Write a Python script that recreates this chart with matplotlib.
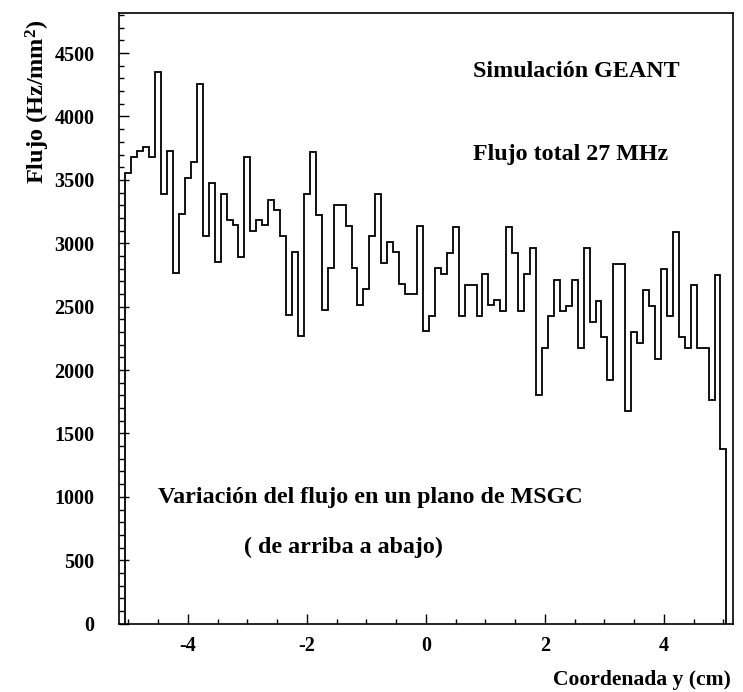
import numpy as np
import matplotlib
matplotlib.use("Agg")
import matplotlib.pyplot as plt
from matplotlib.ticker import MultipleLocator

plt.rcParams['font.family'] = ['Liberation Serif', 'DejaVu Serif']
plt.rcParams['font.weight'] = 'bold'
plt.rcParams['mathtext.default'] = 'regular'
plt.rcParams['axes.unicode_minus'] = False

# flux per 0.1 cm bin along y, from -5.05 to 5.05 cm (Hz/mm^2)
flujo = [3556, 3680, 3724, 3759, 3680, 4347, 3391, 3724, 2768, 3228,
         3514, 3638, 4260, 3057, 3475, 2850, 3388, 3181, 3141, 2892,
         3680, 3099, 3181, 3141, 3345, 3265, 3057, 2437, 2931, 2267,
         3388, 3719, 3223, 2474, 2808, 3302, 3302, 3136, 2808, 2516,
         2637, 3054, 3385, 2847, 3010, 2929, 2682, 2598, 2598, 3135,
         2306, 2429, 2803, 2755, 2926, 3128, 2429, 2674, 2674, 2429,
         2755, 2511, 2556, 2466, 3128, 2923, 2466, 2755, 2963, 1804,
         2175, 2424, 2713, 2464, 2506, 2713, 2177, 2963, 2382, 2548,
         2259, 1925, 2837, 2837, 1678, 2298, 2214, 2629, 2506, 2091,
         2795, 2424, 3086, 2259, 2175, 2671, 2175, 2175, 1762, 2752,
         1381]
y_lo, y_hi = -5.05, 5.05
bordes = np.linspace(y_lo, y_hi, len(flujo) + 1)

fig = plt.figure(figsize=(7.43, 6.92), dpi=100)
ax = fig.add_axes([0.1608, 0.0988, 0.8257, 0.8831])

ax.stairs(flujo, bordes, color='black', lw=1.3)

ax.set_xlim(-5.15, 5.16)
ax.set_ylim(0, 4820)

ax.xaxis.set_major_locator(MultipleLocator(2))
ax.xaxis.set_minor_locator(MultipleLocator(0.5))
ax.yaxis.set_major_locator(MultipleLocator(500))
ax.yaxis.set_minor_locator(MultipleLocator(100))
ax.tick_params(which='both', direction='in', top=False, right=False,
               width=1.0, labelsize=14.5)
ax.tick_params(which='major', length=7.5)
ax.tick_params(which='minor', length=3.5)
ax.tick_params(axis='x', pad=9)
ax.tick_params(axis='y', pad=18)
for s in ax.spines.values():
    s.set_linewidth(1.2)

ax.text(0.577, 0.903, 'Simulación GEANT', transform=ax.transAxes,
        fontsize=17.3, va='center')
ax.text(0.577, 0.767, 'Flujo total 27 MHz', transform=ax.transAxes,
        fontsize=17.3, va='center')
ax.text(0.063, 0.207, 'Variación del flujo en un plano de MSGC',
        transform=ax.transAxes, fontsize=17.3, va='center')
ax.text(0.203, 0.124, '( de arriba a abajo)', transform=ax.transAxes,
        fontsize=17.3, va='center')

fig.text(38 / 743, 1 - 20 / 692, 'Flujo (Hz/mm$^2$)', rotation=90,
         ha='center', va='top', fontsize=17.5)
fig.text(731 / 743, 1 - 680 / 692, 'Coordenada y (cm)', ha='right',
         va='center', fontsize=15.6)

fig.savefig('out.png', dpi=100)
